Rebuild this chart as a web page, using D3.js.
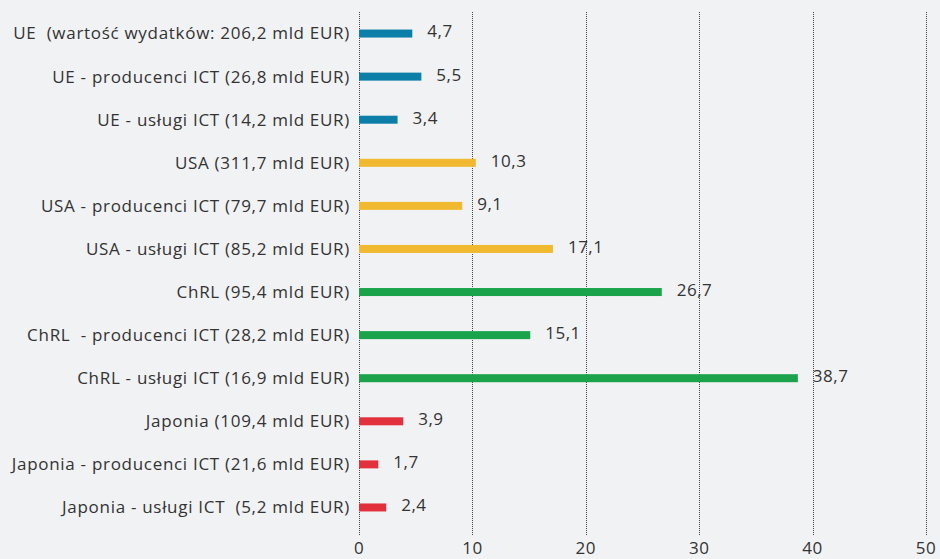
<!DOCTYPE html>
<html>
<head>
<meta charset="utf-8">
<script src="https://cdn.jsdelivr.net/npm/d3@7"></script>
<style>
  body { margin: 0; background: #f1f2f4; }
  svg { display: block; }
  text { font-family: "Open Sans", sans-serif; fill: #333; white-space: pre; }
</style>
</head>
<body>
<div id="viz"></div>
<script>
'use strict';
// data
var categories = [
  'UE  (wartość wydatków: 206,2 mld EUR)',
  'UE - producenci ICT (26,8 mld EUR)',
  'UE - usługi ICT (14,2 mld EUR)',
  'USA (311,7 mld EUR)',
  'USA - producenci ICT (79,7 mld EUR)',
  'USA - usługi ICT (85,2 mld EUR)',
  'ChRL (95,4 mld EUR)',
  'ChRL  - producenci ICT (28,2 mld EUR)',
  'ChRL - usługi ICT (16,9 mld EUR)',
  'Japonia (109,4 mld EUR)',
  'Japonia - producenci ICT (21,6 mld EUR)',
  'Japonia - usługi ICT  (5,2 mld EUR)'
];
var values = [4.7, 5.5, 3.4, 10.3, 9.1, 17.1, 26.7, 15.1, 38.7, 3.9, 1.7, 2.4];
var groups = ['UE', 'UE', 'UE', 'USA', 'USA', 'USA', 'ChRL', 'ChRL', 'ChRL', 'Japonia', 'Japonia', 'Japonia'];
var groupNames = ['UE', 'USA', 'ChRL', 'Japonia'];
var groupColors = ['#0c7fa9', '#f0b92f', '#1ba34b', '#e2313d'];
var xTicks = [0, 10, 20, 30, 40, 50];

var width = 940, height = 559;
var svg = d3.select('#viz').append('svg').attr('width', width).attr('height', height);

var x = d3.scaleLinear().domain([0, 50]).range([359, 926]);
var y = d3.scaleBand().domain(categories).range([12, 529]).paddingInner(0);
var color = d3.scaleOrdinal().domain(groupNames).range(groupColors);
var fmt = function(v) { return d3.format('.1f')(v).replace('.', ','); };

// gridlines
svg.append('g').selectAll('line').data(xTicks).enter().append('line')
  .attr('x1', function(d) { return Math.round(x(d)) + 0.5; })
  .attr('x2', function(d) { return Math.round(x(d)) + 0.5; })
  .attr('y1', 12).attr('y2', 536)
  .attr('stroke', '#444').attr('stroke-width', 1).attr('stroke-dasharray', '1,1');

// axis labels
svg.append('g').selectAll('text').data(xTicks).enter().append('text')
  .attr('x', function(d) { return x(d); })
  .attr('y', 554)
  .attr('text-anchor', 'middle')
  .style('font-size', '17px')
  .style('letter-spacing', '0.5px')
  .text(function(d) { return d; });

// bars
var bh = 8;
svg.append('g').selectAll('rect').data(values).enter().append('rect')
  .attr('x', x(0))
  .attr('y', function(d, i) { return y(categories[i]) + y.bandwidth() / 2 - bh / 2; })
  .attr('width', function(d) { return x(d) - x(0); })
  .attr('height', bh)
  .attr('fill', function(d, i) { return color(groups[i]); });

// category labels
svg.append('g').selectAll('text').data(categories).enter().append('text')
  .attr('x', 350)
  .attr('y', function(d) { return y(d) + y.bandwidth() / 2; })
  .attr('dy', '0.35em')
  .attr('text-anchor', 'end')
  .style('font-size', '17px')
  .style('letter-spacing', '0.7px')
  .text(function(d) { return d; });

// value labels
svg.append('g').selectAll('text').data(values).enter().append('text')
  .attr('x', function(d) { return x(d) + 15; })
  .attr('y', function(d, i) { return y(categories[i]) + y.bandwidth() / 2 - 2; })
  .attr('dy', '0.35em')
  .style('font-size', '17px')
  .style('letter-spacing', '0.5px')
  .text(function(d) { return fmt(d); });
</script>
</body>
</html>
